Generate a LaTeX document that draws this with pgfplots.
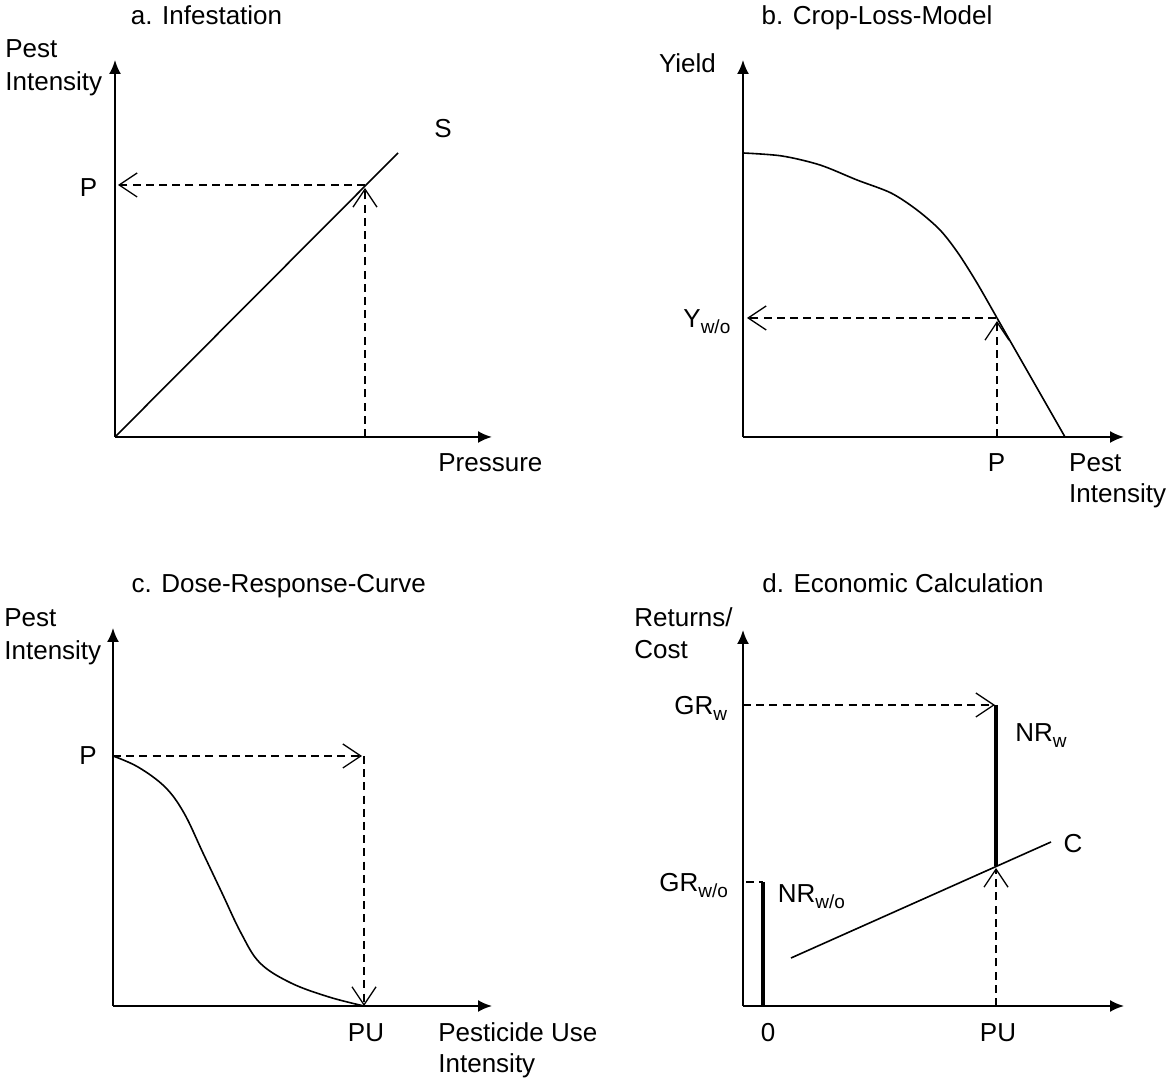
\documentclass[border=0pt]{standalone}
\usepackage{pgfplots}
\pgfplotsset{compat=1.18}
\usepackage{fontspec}
\setmainfont{Liberation Sans}
\usetikzlibrary{arrows.meta}
\newcommand\sub[2][3pt]{\raisebox{-#1}{\fontsize{9.5}{10}\selectfont #2}}
\tikzset{
  lbl/.style={font=\fontsize{13}{15}\selectfont, inner sep=0pt, text=black},
  dashln/.style={line width=0.65pt, dash pattern=on 4pt off 2.6pt, -{Straight Barb[length=9pt,width=12pt,line width=0.65pt]}},
  curve/.style={line width=0.8pt, black, no marks},
  bar/.style={line width=1.6pt, black, no marks},
}
\pgfplotsset{
  panel/.style={
    scale only axis, axis lines=left, enlargelimits=false,
    xtick=\empty, ytick=\empty, clip=false, anchor=south west,
    xmin=0, ymin=0,
    axis line style={line width=1pt, -{Latex[length=7pt,width=6pt]}},
  }
}
\begin{document}
\begin{tikzpicture}
\useasboundingbox (0,0) rectangle (583pt,539.5pt);
% ---------------- a. Infestation
\begin{axis}[panel, at={(57.5pt,321pt)}, width=188.5pt, height=188.5pt, xmax=377, ymax=377]
\addplot[curve] coordinates {(0,0) (283,284)};
\addplot[dashln] coordinates {(250,252) (3,252)};
\addplot[dashln] coordinates {(250,0) (250,249)};
\node[lbl, anchor=base] at (axis cs:91.5,412) {a. Infestation};
\node[lbl, anchor=base west] at (axis cs:-110,379) {Pest};
\node[lbl, anchor=base west] at (axis cs:-110,346) {Intensity};
\node[lbl, anchor=base] at (axis cs:328,299) {S};
\node[lbl, anchor=base] at (axis cs:-26.5,240) {P};
\node[lbl, anchor=base west] at (axis cs:323,-35) {Pressure};
\end{axis}
% ---------------- b. Crop-Loss-Model
\begin{axis}[panel, at={(371.5pt,321pt)}, width=190.5pt, height=188.5pt, xmax=381, ymax=377]
\addplot[curve, smooth, tension=0.5] coordinates {(0,284) (39,281) (77,272) (114,257) (148,244) (174,227) (197,207) (215,184) (234,154) (254,119)};
\addplot[curve] coordinates {(254,119) (322,0)};
\addplot[dashln] coordinates {(253,119) (4,119)};
\addplot[dashln] coordinates {(254,0) (254,116)};
\node[lbl, anchor=base] at (axis cs:134,412) {b. Crop-Loss-Model};
\node[lbl, anchor=base west] at (axis cs:-84.4,364) {Yield};
\node[lbl, anchor=base west] at (axis cs:-60,109) {Y\sub{w/o}};
\node[lbl, anchor=base] at (axis cs:253.5,-35) {P};
\node[lbl, anchor=base west] at (axis cs:325.8,-35) {Pest};
\node[lbl, anchor=base west] at (axis cs:325.8,-66) {Intensity};
\end{axis}
% ---------------- c. Dose-Response-Curve
\begin{axis}[panel, at={(56.5pt,36.5pt)}, width=189.5pt, height=189pt, xmax=379, ymax=378]
\addplot[curve, smooth, tension=0.6] coordinates {(0,250) (25,239) (52,219) (71,193) (90,153) (109,113) (128,73) (147,43) (178,23) (216,9) (251,0)};
\addplot[dashln] coordinates {(0,250) (249,250)};
\addplot[dashln] coordinates {(251,250) (251,0)};
\node[lbl, anchor=base] at (axis cs:165.7,413) {c. Dose-Response-Curve};
\node[lbl, anchor=base west] at (axis cs:-109,379) {Pest};
\node[lbl, anchor=base west] at (axis cs:-109,346) {Intensity};
\node[lbl, anchor=base] at (axis cs:-25,241) {P};
\node[lbl, anchor=base] at (axis cs:253,-36) {PU};
\node[lbl, anchor=base west] at (axis cs:325,-36) {Pesticide Use};
\node[lbl, anchor=base west] at (axis cs:325,-67) {Intensity};
\end{axis}
% ---------------- d. Economic Calculation
\begin{axis}[panel, at={(371.5pt,36.5pt)}, width=190.5pt, height=188pt, xmax=381, ymax=376]
\addplot[dashln] coordinates {(0,301) (252,301)};
\addplot[bar] coordinates {(253,301) (253,140)};
\addplot[curve] coordinates {(48,48) (308,164)};
\addplot[dashln] coordinates {(253,0) (253,138)};
\addplot[line width=0.65pt, dash pattern=on 4pt off 2.6pt, no marks] coordinates {(3,124) (20,124)};
\addplot[bar] coordinates {(20,124) (20,0)};
\node[lbl, anchor=base] at (axis cs:160,413) {d. Economic Calculation};
\node[lbl, anchor=base west] at (axis cs:-109,379) {Returns/};
\node[lbl, anchor=base west] at (axis cs:-109,347) {Cost};
\node[lbl, anchor=base west] at (axis cs:-69,291) {GR\sub{w}};
\node[lbl, anchor=base west] at (axis cs:272,264) {NR\sub{w}};
\node[lbl, anchor=base west] at (axis cs:-84,114) {GR\sub{w/o}};
\node[lbl, anchor=base west] at (axis cs:34.5,103) {NR\sub{w/o}};
\node[lbl, anchor=base] at (axis cs:330,153) {C};
\node[lbl, anchor=base] at (axis cs:25,-36) {0};
\node[lbl, anchor=base] at (axis cs:255,-36) {PU};
\end{axis}
\end{tikzpicture}
\end{document}
